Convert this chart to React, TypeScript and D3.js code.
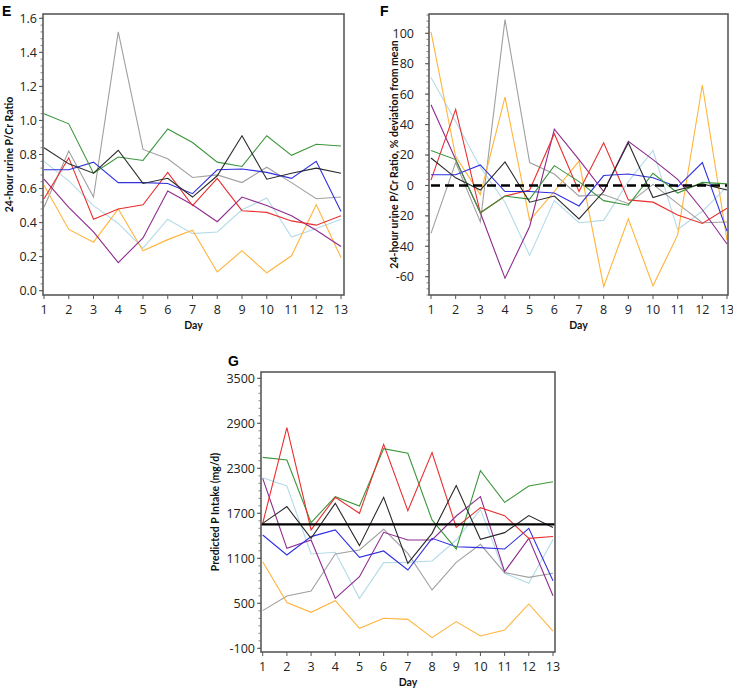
import React from "react";
import * as d3 from "d3";

const days = [1, 2, 3, 4, 5, 6, 7, 8, 9, 10, 11, 12, 13];

// Panel E: 24-hour urine P/Cr ratio
const eGreen = [1.04, 0.98, 0.69, 0.785, 0.765, 0.95, 0.87, 0.755, 0.73, 0.91, 0.795, 0.86, 0.85];
const eBlack = [0.84, 0.745, 0.69, 0.825, 0.63, 0.66, 0.55, 0.675, 0.91, 0.655, 0.69, 0.72, 0.69];
const eGray = [0.49, 0.82, 0.55, 1.52, 0.83, 0.775, 0.665, 0.68, 0.635, 0.725, 0.635, 0.54, 0.55];
const eBlue = [0.71, 0.71, 0.755, 0.635, 0.635, 0.63, 0.57, 0.71, 0.715, 0.695, 0.66, 0.76, 0.465];
const eRed = [0.54, 0.78, 0.42, 0.48, 0.505, 0.695, 0.5, 0.66, 0.47, 0.46, 0.41, 0.385, 0.44];
const eLightBlue = [0.76, 0.645, 0.5, 0.395, 0.25, 0.42, 0.335, 0.345, 0.475, 0.545, 0.315, 0.365, 0.42];
const ePurple = [0.655, 0.49, 0.345, 0.165, 0.31, 0.585, 0.505, 0.405, 0.55, 0.5, 0.44, 0.355, 0.26];
const eOrange = [0.62, 0.36, 0.285, 0.48, 0.235, 0.3, 0.355, 0.11, 0.235, 0.105, 0.205, 0.505, 0.195];
const eTicks = [0, 0.2, 0.4, 0.6, 0.8, 1.0, 1.2, 1.4, 1.6];

// Panel F: % deviation from mean
const fOrange = [101, 19, -6, 58, -23, -4, 16, -66.5, -22, -66, -32.5, 66, -36];
const fLightBlue = [71, 42, 12, -11, -46, -10, -24.5, -23, 2.5, 23, -29, -17, -1];
const fPurple = [53, 17, -18, -61, -27, 37, 17, -4, 29, 17, 4, -16, -38.5];
const fRed = [3.5, 50, -18, -7, -3, 34, -4, 28, -9.5, -11, -19.5, -25, -15];
const fGreen = [23, 17, -18, -7, -9, 13, 2.5, -10, -13, 8, -5, 2, 1];
const fBlack = [18, 5, -3, 15.5, -11, -7, -22, -4, 28, -8, -3, 1, -3];
const fBlue = [7, 7, 13.5, -4, -4, -5, -13.5, 6.5, 7.5, 5, -1, 15, -30];
const fGray = [-31.5, 15, -24, 109, 15, 7.5, -7, -6, -12, 0.7, -12, -24.5, -24];
const fTicks = [-60, -40, -20, 0, 20, 40, 60, 80, 100];
const fMean = 0;

// Panel G: predicted P intake (mg/d)
const gRed = [1566, 2842, 1478, 1913, 1700, 2620, 1735, 2509, 1513, 1775, 1669, 1366, 1390];
const gGreen = [2446, 2411, 1575, 1922, 1798, 2562, 2500, 1611, 1224, 2268, 1846, 2064, 2120];
const gLightBlue = [2175, 2064, 1157, 1180, 566, 1042, 1046, 1064, 1344, 1753, 900, 766, 1350];
const gPurple = [2166, 1233, 1344, 566, 855, 1446, 1344, 1344, 1664, 1922, 922, 1366, 600];
const gBlack = [1566, 1789, 1366, 1833, 1269, 1913, 1033, 1433, 2069, 1353, 1442, 1669, 1510];
const gBlue = [1411, 1144, 1389, 1478, 1113, 1198, 944, 1366, 1255, 1242, 1224, 1500, 800];
const gGray = [402, 598, 664, 1157, 1211, 1486, 1166, 678, 1046, 1286, 909, 846, 900];
const gOrange = [1055, 509, 380, 535, 166, 300, 286, 42, 256, 64, 144, 491, 130];
const gTicks = [-100, 500, 1100, 1700, 2300, 2900, 3500];
const gMean = 1553;

const C = {
  green: "#3c963c",
  black: "#2a2a2a",
  gray: "#a0a0a0",
  blue: "#3030e0",
  red: "#e83030",
  lightBlue: "#b4dbe8",
  purple: "#8e2a8e",
  orange: "#ffb43c",
};

type Series = { values: number[]; color: string };

type PanelProps = {
  frame: { l: number; t: number; r: number; b: number };
  xRange: [number, number];
  yDomain: [number, number];
  yRange: [number, number];
  ticks: number[];
  fmt: (v: number) => string;
  minorStep: number;
  series: Series[];
  refLine?: { value: number; dashed: boolean };
  labelGap: number;
  yTitle: string;
  titleX: number;
  letter: string;
  letterPos: [number, number];
};

const tickFont = "'Open Sans', sans-serif";
const titleFont = "Lato, sans-serif";

function Panel(p: PanelProps) {
  const x = d3.scaleLinear().domain([1, 13]).range(p.xRange);
  const y = d3.scaleLinear().domain(p.yDomain).range(p.yRange);
  const line = (vals: number[]) =>
    d3.line<number>().x((_, i) => x(days[i])).y((v) => y(v))(vals) || "";
  const { l, t, r, b } = p.frame;
  const yLo = y.invert(b);
  const yHi = y.invert(t);
  const minors: number[] = [];
  const start = Math.ceil(yLo / p.minorStep) * p.minorStep;
  for (let v = start; v <= yHi + 1e-9; v += p.minorStep) minors.push(v);
  const cy = (t + b) / 2;
  const cx = (l + r) / 2;
  return (
    <g>
      <text x={p.letterPos[0]} y={p.letterPos[1]} fontFamily="'Liberation Sans', Arial, sans-serif" fontWeight="bold" fontSize={14}>
        {p.letter}
      </text>
      <rect x={l} y={t} width={r - l} height={b - t} fill="white" />
      {p.series.map((s, i) => (
        <path key={i} d={line(s.values)} fill="none" stroke={s.color} strokeWidth={1.1} />
      ))}
      {p.refLine && (
        <line
          x1={p.refLine.dashed ? x(1) : l}
          x2={p.refLine.dashed ? x(13) : r}
          y1={y(p.refLine.value)}
          y2={y(p.refLine.value)}
          stroke="#000"
          strokeWidth={p.refLine.dashed ? 2.6 : 2.2}
          strokeDasharray={p.refLine.dashed ? "9,5" : undefined}
        />
      )}
      <rect x={l} y={t} width={r - l} height={b - t} fill="none" stroke="#5a5a5a" strokeWidth={1.6} />
      {minors.map((v, i) => (
        <line key={"m" + i} x1={l - 2.5} x2={l} y1={y(v)} y2={y(v)} stroke="#666" strokeWidth={0.8} />
      ))}
      {p.ticks.map((v) => (
        <g key={"t" + v}>
          <line x1={l - 4} x2={l} y1={y(v)} y2={y(v)} stroke="#555" strokeWidth={1} />
          <text x={l - p.labelGap} y={y(v)} dy="0.35em" textAnchor="end" fontFamily={tickFont} fontSize={12.5} fill="#222">
            {p.fmt(v)}
          </text>
        </g>
      ))}
      {days.map((d) => (
        <g key={"x" + d}>
          <line x1={x(d)} x2={x(d)} y1={b} y2={b + 4} stroke="#555" strokeWidth={1} />
          <text x={x(d)} y={b + 19} textAnchor="middle" fontFamily={tickFont} fontSize={12.5} fill="#222">
            {d}
          </text>
        </g>
      ))}
      <text x={cx} y={b + 34} textAnchor="middle" fontFamily={titleFont} fontWeight="bold" fontSize={10.5} fill="#111">
        Day
      </text>
      <text
        transform={`translate(${p.titleX},${cy}) rotate(-90)`}
        textAnchor="middle"
        fontFamily={titleFont}
        fontWeight="bold"
        fontSize={10.5}
        fill="#111"
      >
        {p.yTitle}
      </text>
    </g>
  );
}

export default function App() {
  const ePanel: Series[] = [
    { values: eLightBlue, color: C.lightBlue },
    { values: eGray, color: C.gray },
    { values: eOrange, color: C.orange },
    { values: ePurple, color: C.purple },
    { values: eRed, color: C.red },
    { values: eBlue, color: C.blue },
    { values: eGreen, color: C.green },
    { values: eBlack, color: C.black },
  ];
  const fPanel: Series[] = [
    { values: fLightBlue, color: C.lightBlue },
    { values: fGray, color: C.gray },
    { values: fOrange, color: C.orange },
    { values: fPurple, color: C.purple },
    { values: fRed, color: C.red },
    { values: fBlue, color: C.blue },
    { values: fGreen, color: C.green },
    { values: fBlack, color: C.black },
  ];
  const gPanel: Series[] = [
    { values: gLightBlue, color: C.lightBlue },
    { values: gGray, color: C.gray },
    { values: gOrange, color: C.orange },
    { values: gPurple, color: C.purple },
    { values: gBlue, color: C.blue },
    { values: gGreen, color: C.green },
    { values: gRed, color: C.red },
    { values: gBlack, color: C.black },
  ];
  return (
    <svg
      width={733}
      height={692}
      style={{ position: "absolute", left: 0, top: 0, background: "white" }}
    >
      <rect width={733} height={692} fill="white" />
      <Panel
        frame={{ l: 43, t: 14, r: 344, b: 295 }}
        xRange={[44, 341]}
        yDomain={[0, 1.6]}
        yRange={[290.7, 18.3]}
        ticks={eTicks}
        fmt={(v) => v.toFixed(1)}
        minorStep={0.04}
        series={ePanel}
        labelGap={6}
        yTitle="24-hour urine P/Cr Ratio"
        titleX={13}
        letter="E"
        letterPos={[2, 16]}
      />
      <Panel
        frame={{ l: 429, t: 14, r: 728, b: 295 }}
        xRange={[431, 727]}
        yDomain={[-60, 100]}
        yRange={[276.7, 33.3]}
        ticks={fTicks}
        fmt={(v) => String(v)}
        minorStep={4}
        series={fPanel}
        refLine={{ value: fMean, dashed: true }}
        labelGap={15}
        yTitle="24-hour urine P/Cr Ratio, % deviation from mean"
        titleX={398}
        letter="F"
        letterPos={[380, 16]}
      />
      <Panel
        frame={{ l: 261, t: 372, r: 555, b: 652 }}
        xRange={[262.7, 553]}
        yDomain={[-100, 3500]}
        yRange={[648.3, 378.3]}
        ticks={gTicks}
        fmt={(v) => String(v)}
        minorStep={100}
        series={gPanel}
        refLine={{ value: gMean, dashed: false }}
        labelGap={6}
        yTitle="Predicted P Intake (mg/d)"
        titleX={219}
        letter="G"
        letterPos={[228, 366]}
      />
    </svg>
  );
}
